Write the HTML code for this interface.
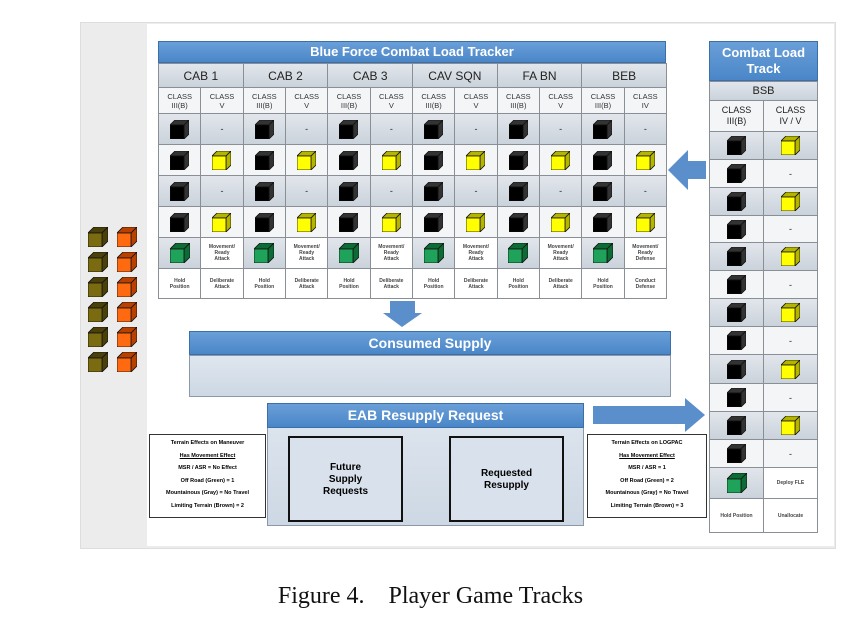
<!DOCTYPE html>
<html><head><meta charset="utf-8"><style>
body{margin:0;width:861px;height:619px;background:#fff;position:relative;overflow:hidden;font-family:"Liberation Sans",sans-serif}
.a{position:absolute;box-sizing:border-box}
.title{background:linear-gradient(#6a9fd8,#4a86c8);color:#fff;font-weight:bold;text-align:center;border:1px solid #3b6fa8}
.cell{position:absolute;box-sizing:border-box;border:1px solid #8a8f96;display:flex;align-items:center;justify-content:center;text-align:center;color:#222}
.g{background:linear-gradient(#e2e6ec,#cad2db)}
.w{background:#f3f5f7}
.tiny{font-size:5px;font-weight:bold;line-height:6px;color:#444}
.term{background:#fff;border:1px solid #333;font-size:5.5px;font-weight:bold;text-align:center;line-height:12.5px;padding-top:2px}
</style></head><body>
<div class="a" style="left:80px;top:22px;width:756px;height:527px;background:#ececec;border:1px solid #ddd"></div>
<div class="a" style="left:147px;top:24px;width:687px;height:522px;background:#fff"></div>
<div id="root"></div>
<svg class="a" style="left:0;top:0" width="861" height="619">
<polygon points="668,170 688,150 688,161 706,161 706,179 688,179 688,190" fill="#5b8fcb"/>
<polygon points="390,301 415,301 415,313 422,313 402,327 383,313 390,313" fill="#5b8fcb"/>
<polygon points="593,406 685,406 685,398 705,415 685,432 685,424 593,424" fill="#5b8fcb"/>
</svg>
<div class="a title" style="left:189px;top:331px;width:482px;height:24px;font-size:14px;line-height:22px">Consumed Supply</div>
<div class="a" style="left:189px;top:355px;width:482px;height:42px;background:linear-gradient(#dfe6ef,#cdd8e4);border:1px solid #8a99aa"></div>
<div class="a" style="left:267px;top:403px;width:317px;height:123px;background:linear-gradient(#dfe6ef,#cdd8e4);border:1px solid #8a99aa"></div>
<div class="a title" style="left:267px;top:403px;width:317px;height:25px;font-size:14px;line-height:23px">EAB Resupply Request</div>
<div class="a" style="left:288px;top:436px;width:115px;height:86px;border:2px solid #111;background:#d9e2ec;font-size:10px;font-weight:bold;text-align:center;padding-top:24px;line-height:12px">Future<br>Supply<br>Requests</div>
<div class="a" style="left:449px;top:436px;width:115px;height:86px;border:2px solid #111;background:#d9e2ec;font-size:10px;font-weight:bold;text-align:center;padding-top:30px;line-height:12px">Requested<br>Resupply</div>
<div class="a term" style="left:149px;top:434px;width:117px;height:84px">Terrain Effects on Maneuver<br><u>Has Movement Effect</u><br>MSR / ASR = No Effect<br>Off Road (Green) = 1<br>Mountainous (Gray) = No Travel<br>Limiting Terrain (Brown) = 2</div>
<div class="a term" style="left:587px;top:434px;width:120px;height:84px">Terrain Effects on LOGPAC<br><u>Has Movement Effect</u><br>MSR / ASR = 1<br>Off Road (Green) = 2<br>Mountainous (Gray) = No Travel<br>Limiting Terrain (Brown) = 3</div>
<div class="a" style="left:0;top:583px;width:861px;text-align:center;font-family:'Liberation Serif',serif;font-size:24px;color:#111">Figure 4.&nbsp;&nbsp;&nbsp; Player Game Tracks</div>
<script>
function cube(c,s){s=s||19;var d=Math.round(s*0.28),f=s-d;
var dk={'#000':'#333','#ffff00':'#b5b500','#1fa35a':'#0d6b35','#7a6a10':'#4a400a','#ff6a10':'#b84000'}[c]||'#333';
return '<svg width="'+s+'" height="'+s+'" viewBox="0 0 '+s+' '+s+'"><polygon points="0,'+d+' '+d+',0 '+s+',0 '+f+','+d+'" fill="'+dk+'" stroke="#111" stroke-width="0.8"/><polygon points="'+f+','+d+' '+s+',0 '+s+','+f+' '+f+','+s+'" fill="'+dk+'" stroke="#111" stroke-width="0.8"/><rect x="0" y="'+d+'" width="'+f+'" height="'+f+'" fill="'+c+'" stroke="#111" stroke-width="0.8"/></svg>';}
var h='',R=document.getElementById('root');
function cell(x,y,w,hh,cls,inner,st){h+='<div class="cell '+cls+'" style="left:'+x+'px;top:'+y+'px;width:'+(w+1)+'px;height:'+(hh+1)+'px;'+(st||'')+'">'+inner+'</div>';}
h+='<div class="a title" style="left:158px;top:41px;width:508px;height:22px;font-size:13px;line-height:20px">Blue Force Combat Load Tracker</div>';
var units=['CAB 1','CAB 2','CAB 3','CAV SQN','FA BN','BEB'],cw=508/12,x0=158;
var rows=[113,144,175,206,237,268,298];
for(var u=0;u<6;u++){var ux=x0+u*2*cw;
cell(ux,63,2*cw,24,'g',units[u],'font-size:12px');
cell(ux,87,cw,26,'w','CLASS<br>III(B)','font-size:7.5px;line-height:9px;color:#333');
cell(ux+cw,87,cw,26,'w','CLASS<br>'+(u==5?'IV':'V'),'font-size:7.5px;line-height:9px;color:#333');
for(var r=0;r<4;r++){var y=rows[r],hh=rows[r+1]-y,cls=(r%2==0)?'g':'w';
cell(ux,y,cw,hh,cls,cube('#000'));
cell(ux+cw,y,cw,hh,cls,r%2==0?'-':cube('#ffff00'),'font-size:9px');}
cell(ux,237,cw,31,'g',cube('#1fa35a',20));
cell(ux+cw,237,cw,31,'w tiny',u==5?'Movement/<br>Ready<br>Defense':'Movement/<br>Ready<br>Attack','background:#fff');
cell(ux,268,cw,30,'w tiny','Hold<br>Position','background:#fff');
cell(ux+cw,268,cw,30,'w tiny',u==5?'Conduct<br>Defense':'Deliberate<br>Attack','background:#fff');}
h+='<div class="a title" style="left:709px;top:41px;width:109px;height:40px;font-size:13px;line-height:16px;padding-top:3px">Combat Load<br>Track</div>';
cell(709,81,108,19,'g','BSB','font-size:11px');
cell(709,100,54,31,'w','CLASS<br>III(B)','font-size:9px;line-height:11px');
cell(763,100,54,31,'w','CLASS<br>IV / V','font-size:9px;line-height:11px');
var ry=[131,159,187,215,242,270,298,326,354,383,411,439,467,498,532];
for(var r=0;r<12;r++){var y=ry[r],hh=ry[r+1]-y,cls=(r%2==0)?'g':'w';
cell(709,y,54,hh,cls,cube('#000'));cell(763,y,54,hh,cls,r%2==0?cube('#ffff00'):'-','font-size:9px');}
cell(709,467,54,31,'g',cube('#1fa35a',20));
cell(763,467,54,31,'w tiny','Deploy FLE','background:#fff');
cell(709,498,54,34,'w tiny','Hold Position','background:#fff');
cell(763,498,54,34,'w tiny','Unallocate','background:#fff');
for(var i=0;i<6;i++){var y=227+i*25;
h+='<div class="a" style="left:88px;top:'+y+'px">'+cube('#7a6a10',20)+'</div>';
h+='<div class="a" style="left:117px;top:'+y+'px">'+cube('#ff6a10',20)+'</div>';}
R.innerHTML=h;
</script>
</body></html>
